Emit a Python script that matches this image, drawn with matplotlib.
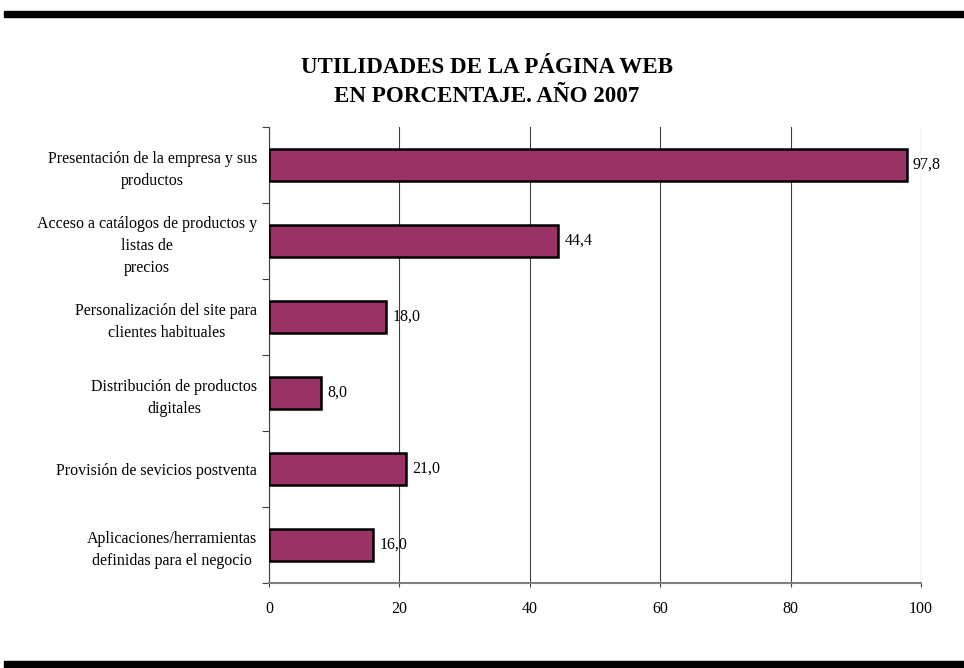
import numpy as np
import matplotlib.pyplot as plt

plt.rcParams['font.family'] = ['Liberation Serif', 'DejaVu Serif']

# datos del gráfico
categorias = ["Presentación de la empresa y sus\nproductos",
              "Acceso a catálogos de productos y\nlistas de\nprecios",
              "Personalización del site para\nclientes habituales",
              "Distribución de productos\ndigitales",
              "Provisión de sevicios postventa",
              "Aplicaciones/herramientas\ndefinidas para el negocio"]
valores = [97.8, 44.4, 18.0, 8.0, 21.0, 16.0]
etiquetas = ["97,8", "44,4", "18,0", "8,0", "21,0", "16,0"]
titulo = "UTILIDADES DE LA PÁGINA WEB\nEN PORCENTAJE. AÑO 2007"

fig = plt.figure(figsize=(9.64, 6.68), dpi=100)
ax = fig.add_axes([269/964, 1 - 583/668, (921-269)/964, (583-127)/668])

y = np.arange(len(valores))
ax.barh(y, valores, height=0.42, color='#993366', edgecolor='black', linewidth=1.8, zorder=3)
for yi, v, t in zip(y, valores, etiquetas):
    ax.text(v + 0.9, yi, t, va='center', ha='left', fontsize=11.5, zorder=4)

ax.set_xlim(0, 100)
ax.set_ylim(len(valores) - 0.5, -0.5)
ax.set_xticks(np.arange(0, 101, 20))
ax.xaxis.grid(True, color='#404040', linewidth=0.8, zorder=0)
ax.set_yticks(np.arange(-0.5, len(valores), 1))
ax.set_yticklabels([])
ax.set_yticks(y, minor=True)
ax.set_yticklabels(categorias, minor=True, fontsize=11.5, ha='right',
                   multialignment='center', linespacing=1.5)
ax.tick_params(axis='y', which='minor', length=0, pad=8.5)
ax.tick_params(axis='y', which='major', length=5, direction='out', color='#404040')
ax.tick_params(axis='x', length=3, direction='out', color='#404040', labelsize=11.5, pad=10)

for s in ['top', 'right']:
    ax.spines[s].set_visible(False)
ax.spines['left'].set_color('#404040')
ax.spines['bottom'].set_color('#808080')
ax.spines['bottom'].set_linewidth(1.5)

fig.text(487/964, 1 - 82/668, titulo, ha='center', va='center', fontsize=16.6,
         fontweight='bold', linespacing=1.5)

# barras negras superior e inferior
fig.add_artist(plt.Rectangle((4/964, 1 - 17/668), 960/964, 6/668, transform=fig.transFigure,
                             color='black'))
fig.add_artist(plt.Rectangle((4/964, 0), 960/964, 7/668, transform=fig.transFigure,
                             color='black'))

fig.savefig('out.png', dpi=100)
